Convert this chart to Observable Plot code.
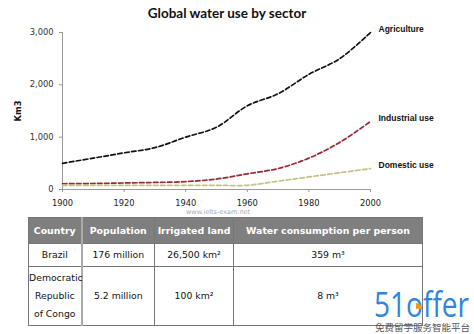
<!DOCTYPE html>
<html>
<head>
<meta charset="utf-8">
<script src="https://cdn.jsdelivr.net/npm/d3@7"></script>
<script src="https://cdn.jsdelivr.net/npm/@observablehq/plot@0.6"></script>
<style>
  html, body { margin: 0; padding: 0; background: #fff; }
  #wrap { position: relative; width: 474px; height: 334px; overflow: hidden; background: #fff; }
  #title { position: absolute; left: 0; top: 5px; width: 454px; text-align: center; font-family: Lato, "Open Sans", sans-serif; font-weight: bold; font-size: 13.5px; color: #111; }
  #chart { position: absolute; left: 0; top: 0; }
  #wm { position: absolute; left: 186px; top: 208px; font-family: "DejaVu Sans", sans-serif; font-size: 6.5px; color: #aaa; }
  table { position: absolute; left: 28px; top: 217px; border-collapse: collapse; font-family: "DejaVu Sans", Verdana, sans-serif; font-size: 9.3px; color: #111; table-layout: fixed; }
  th, td { border: 1px solid #777; text-align: center; padding: 0; }
  th { background: #7f7f7f; color: #fff; font-weight: bold; height: 25px; font-size: 9.4px; white-space: nowrap; overflow: visible; }
  td { line-height: 18px; }
  td:first-child, th:first-child { border-right: 2px solid #aaa; }
  #logo { position: absolute; left: 0; top: 0; }
  #cn { position: absolute; left: 375px; top: 321px; font-family: "Noto Sans CJK SC", sans-serif; font-size: 9.5px; line-height: 12px; color: #555; white-space: nowrap; }
</style>
</head>
<body>
<div id="wrap">
  <div id="chart"></div>
  <div id="title">Global water use by sector</div>
  <div id="wm">www.ielts-exam.net</div>
  <div id="tablebox"></div>
  <svg id="logo" width="474" height="334">
    <text x="374" y="317" textLength="95" lengthAdjust="spacingAndGlyphs" font-family="'Open Sans', 'Noto Sans', sans-serif" font-weight="400" font-size="35" fill="#2e86de">51offer</text>
    <path d="M416,309 L416,303 A6,6 0 0 1 422,309 Z" fill="#f39a1e"/>
  </svg>
  <div id="cn">免费留学服务智能平台</div>
</div>
<script>
// ---- data ----
const years = [1900, 1910, 1920, 1930, 1940, 1950, 1960, 1970, 1980, 1990, 2000];
const agriculture = [500, 600, 700, 800, 1000, 1190, 1600, 1830, 2200, 2500, 3000];
const industrial = [110, 115, 125, 135, 150, 200, 300, 400, 600, 900, 1300];
const domestic = [80, 80, 80, 80, 80, 80, 80, 160, 240, 320, 400];
const seriesNames = ["Agriculture", "Industrial use", "Domestic use"];
const seriesColors = ["#111111", "#962a35", "#c2c485"];
const yTicks = [0, 1000, 2000, 3000];
const xTicks = [1900, 1920, 1940, 1960, 1980, 2000];

const tableHeaders = ["Country", "Population", "Irrigated land", "Water consumption per person"];
const countries = ["Brazil", "Democratic Republic of Congo"];
const populations = ["176 million", "5.2 million"];
const irrigated = ["26,500 km²", "100 km²"];
const consumption = ["359 m³", "8 m³"];

// ---- build ----
const valuesBySeries = [agriculture, industrial, domestic];
const rows = [];
valuesBySeries.forEach((vals, s) => {
  years.forEach((yr, i) => rows.push({series: seriesNames[s], year: yr, value: vals[i]}));
});
const ends = valuesBySeries.map((vals, s) => ({series: seriesNames[s], year: years[years.length - 1], value: vals[vals.length - 1]}));

const plot = Plot.plot({
  width: 474,
  height: 212,
  marginLeft: 62,
  marginRight: 104,
  marginTop: 32,
  marginBottom: 23,
  style: {fontFamily: "'DejaVu Sans', Verdana, sans-serif", fontSize: "8.3px", color: "#333", background: "transparent"},
  x: {domain: [1900, 2000]},
  y: {domain: [0, 3000]},
  color: {domain: seriesNames, range: seriesColors},
  marks: [
    Plot.ruleX([1900], {stroke: "#999", strokeWidth: 1}),
    Plot.ruleY([0], {stroke: "#999", strokeWidth: 1}),
    Plot.axisY({ticks: yTicks, tickFormat: d3.format(","), tickSize: 3, tickPadding: 6, stroke: "#999", label: "Km3", labelAnchor: "center", labelOffset: 47, labelArrow: "none", fill: "#333"}),
    Plot.axisX({ticks: xTicks, tickFormat: d3.format("d"), tickSize: 3, tickPadding: 8, stroke: "#999", label: null, fill: "#222"}),
    Plot.line(rows, {x: "year", y: "value", z: "series", stroke: "series", strokeWidth: 1.7, strokeDasharray: "4.5,2.5", curve: "catmull-rom"}),
    Plot.text(ends, {x: "year", y: "value", text: "series", dx: 8, dy: -3, textAnchor: "start", fontWeight: "bold", fontSize: 8.5, fill: "#111", fontFamily: "'Liberation Sans', Arial, sans-serif"})
  ]
});
document.getElementById("chart").appendChild(plot);
const lbl = [...plot.querySelectorAll("text")].find(t => t.textContent === "Km3");
if (lbl) { lbl.setAttribute("font-weight", "bold"); lbl.setAttribute("fill", "#111"); }

// table
const colW = [53, 73, 79, 189];
const rowH = [22, 58];
const tbl = document.createElement("table");
tbl.style.width = d3.sum(colW) + "px";
const cg = document.createElement("colgroup");
colW.forEach(w => { const c = document.createElement("col"); c.style.width = w + "px"; cg.appendChild(c); });
tbl.appendChild(cg);
const hr = document.createElement("tr");
tableHeaders.forEach(h => { const th = document.createElement("th"); th.textContent = h; hr.appendChild(th); });
tbl.appendChild(hr);
countries.forEach((c, i) => {
  const tr = document.createElement("tr");
  [c, populations[i], irrigated[i], consumption[i]].forEach(v => {
    const td = document.createElement("td"); td.textContent = v; td.style.height = rowH[i] + "px"; tr.appendChild(td);
  });
  tbl.appendChild(tr);
});
document.getElementById("tablebox").appendChild(tbl);
</script>
</body>
</html>
